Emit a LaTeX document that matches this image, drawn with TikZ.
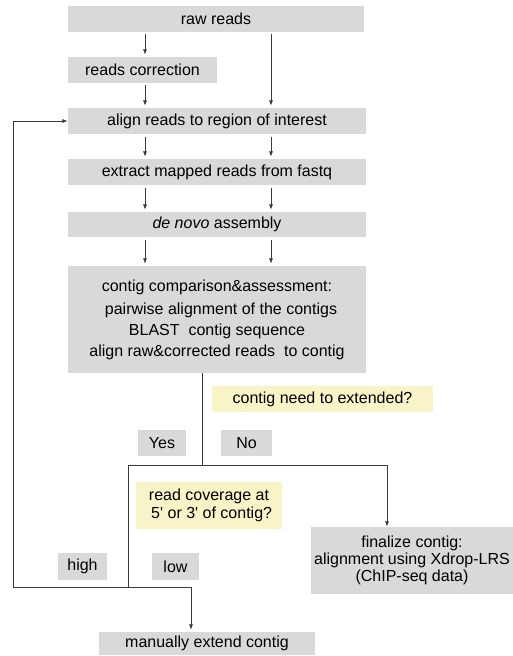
\documentclass[tikz,border=0pt]{standalone}
\usepackage{fontspec}
\setmainfont{Liberation Sans}
\usetikzlibrary{arrows.meta,positioning,calc}

\definecolor{boxgray}{HTML}{D9D9D9}
\definecolor{askyellow}{HTML}{F8F4C8}
\definecolor{wire}{HTML}{3A3A3A}

\begin{document}
\begin{tikzpicture}[
            x=0.75pt, y=-0.75pt,
            font=\fontsize{12}{13.5}\selectfont,
            block/.style={
                fill=boxgray,
                inner sep=0pt,
                minimum height=19.5pt,
                align=center
            },
            ask/.style={
                fill=askyellow,
                inner sep=0pt,
                minimum height=19.5pt,
                align=center
            },
            tag/.style={
                fill=boxgray,
                inner sep=0pt,
                minimum height=20pt
            },
            wireline/.style={
                draw=wire,
                line width=0.6pt
            },
            arr/.style={
                wireline,
                -{Latex[length=4pt,width=3pt]}
            }
        ]

% Frame (reference size in px)
            \useasboundingbox (0,0) rectangle (513,656);

% Arrow columns
            \def\xL{145}
            \def\xR{271}
            \coordinate (colL) at (\xL,0);
            \coordinate (colR) at (\xR,0);

% --- Pipeline boxes ---
            \node[block, minimum width=222pt] (raw) at (216,19) {raw reads};
            \node[block, minimum width=111.75pt] (corr) at (142.5,70) {reads correction};
            \node[block, minimum width=223.5pt] (align) at (217,121) {align reads  to region of interest};
            \node[block, minimum width=223.5pt] (extract) at (217,172) {extract mapped reads  from fastq};
            \node[block, minimum width=223.5pt, minimum height=18.75pt] (denovo) at (217,224.5) {\textit{de novo} assembly};
            \node[block, minimum width=223.5pt, minimum height=80.25pt,
                  font=\fontsize{12}{15.75}\selectfont] (contig) at (217,319.5)
                {contig comparison\&assessment:\\[1.5pt]
                 \hspace*{6pt}pairwise alignment of the contigs\\
                 BLAST\ \ contig sequence\\
                 align raw\&corrected reads\ \ to contig};

% Questions and answers
            \node[ask, minimum width=165.75pt] (need) at (322.5,399) {contig need to extended?};
            \node[tag, minimum width=36pt] (yes) at (162,443) {Yes};
            \node[tag, minimum width=38.25pt] (no) at (246.5,443) {No};
            \node[ask, minimum width=109.5pt, minimum height=35.25pt,
                  font=\fontsize{12}{13.5}\selectfont] (cover) at (209,505.5)
                {read coverage at\\\hspace*{4pt}5\textquotesingle{} or 3\textquotesingle{} of contig?};
            \node[tag, minimum width=36.75pt] (high) at (82.5,566.5) {high};
            \node[tag, minimum width=35.25pt] (low) at (175.5,566.5) {low};

% Outcomes
            \node[block, minimum width=151.5pt, minimum height=50.25pt,
                  font=\fontsize{12}{12.5}\selectfont] (final) at (412,560.5)
                {finalize contig:\\alignment using Xdrop-LRS\\(ChIP-seq data)};
            \node[block, minimum width=162pt, minimum height=17.25pt] (manual) at (207,643.5) {manually extend contig};

% Branch points
            \coordinate (split) at (202,465);
            \coordinate (splitL) at (128,465);
            \coordinate (splitR) at (387,465);
            \coordinate (merge) at (128,587);
            \coordinate (loop) at (13,587);
            \coordinate (down) at (191,587);

% --- Straight arrows between pipeline boxes ---
            \draw[arr, shorten <=1pt, shorten >=1.5pt] (raw.south -| colL) -- (corr.north -| colL);
            \draw[arr, shorten <=1pt, shorten >=1.5pt] (raw.south -| colR) -- (align.north -| colR);
            \draw[arr, shorten <=1pt, shorten >=1.5pt] (corr.south -| colL) -- (align.north -| colL);
            \foreach \a/\b in {align/extract, extract/denovo, denovo/contig} {
                \draw[arr, shorten <=2pt, shorten >=1.5pt] (\a.south -| colL) -- (\b.north -| colL);
                \draw[arr, shorten <=2pt, shorten >=1.5pt] (\a.south -| colR) -- (\b.north -| colR);
            }

% --- Decision tree ---
            \draw[wireline] (contig.south -| split) -- (split);
            \draw[wireline] (splitL) -- (splitR);
            \draw[arr] (splitR) -- (final.north -| splitR);
            \draw[wireline] (splitL) -- (merge);
            \draw[wireline] (loop) -- (down);
            \draw[arr, shorten >=1.5pt] (down) -- (manual.north -| down);

% Loop back to alignment
            \draw[arr] (loop) |- (align.west);

        \end{tikzpicture}
\end{document}
